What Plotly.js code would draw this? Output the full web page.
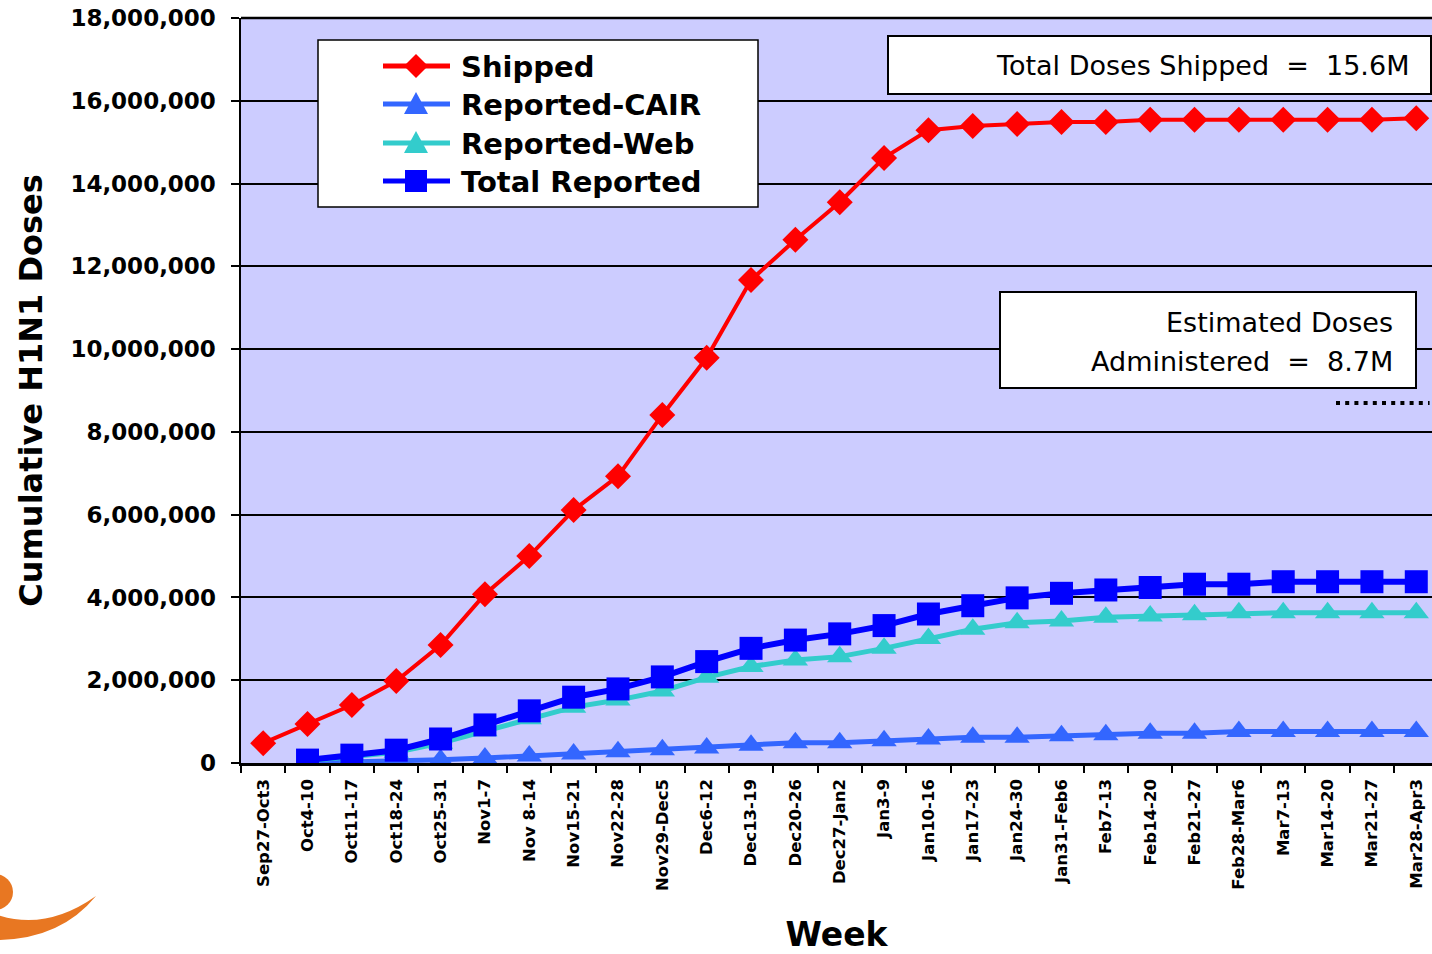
<!DOCTYPE html>
<html>
<head>
<meta charset="utf-8">
<script src="https://cdn.plot.ly/plotly-3.0.1.min.js"></script>
<style>
  html, body { margin: 0; padding: 0; background: #ffffff; }
  #chart { width: 1432px; height: 954px; }
</style>
</head>
<body>
<div id="chart"></div>
<script>
// ---------- data ----------
const weeks = [
  "Sep27-Oct3", "Oct4-10", "Oct11-17", "Oct18-24", "Oct25-31", "Nov1-7", "Nov 8-14",
  "Nov15-21", "Nov22-28", "Nov29-Dec5", "Dec6-12", "Dec13-19", "Dec20-26", "Dec27-Jan2",
  "Jan3-9", "Jan10-16", "Jan17-23", "Jan24-30", "Jan31-Feb6", "Feb7-13", "Feb14-20",
  "Feb21-27", "Feb28-Mar6", "Mar7-13", "Mar14-20", "Mar21-27", "Mar28-Apr3"
];

const shipped = [
  480000, 940000, 1400000, 1980000, 2850000, 4080000, 5000000,
  6110000, 6930000, 8410000, 9790000, 11670000, 12640000, 13550000,
  14620000, 15290000, 15390000, 15440000, 15490000, 15490000, 15540000,
  15540000, 15540000, 15540000, 15540000, 15540000, 15580000
];

const reportedCAIR = [
  null, 0, 20000, 50000, 80000, 120000, 170000,
  220000, 270000, 320000, 360000, 430000, 490000, 490000,
  540000, 580000, 620000, 620000, 660000, 680000, 720000,
  720000, 760000, 760000, 760000, 760000, 760000
];

const reportedWeb = [
  null, 50000, 150000, 260000, 480000, 780000, 1070000,
  1350000, 1520000, 1740000, 2070000, 2330000, 2490000, 2570000,
  2770000, 3010000, 3230000, 3390000, 3430000, 3520000, 3550000,
  3580000, 3630000, 3630000, 3630000, 3630000, 3630000
];

const totalReported = [
  null, 70000, 190000, 310000, 580000, 920000, 1260000,
  1590000, 1790000, 2080000, 2450000, 2770000, 2970000, 3120000,
  3320000, 3600000, 3800000, 3990000, 4100000, 4180000, 4240000,
  4320000, 4320000, 4380000, 4380000, 4380000, 4380000
];

const seriesNames = ["Shipped", "Reported-CAIR", "Reported-Web", "Total Reported"];
const seriesColors = ["#FF0000", "#3366FF", "#33CCCC", "#0000FF"];
const totalShippedLabel = "15.6M";
const estimatedAdministered = 8700000;
const estimatedAdministeredLabel = "8.7M";
const yTickValues = [0, 2000000, 4000000, 6000000, 8000000, 10000000, 12000000, 14000000, 16000000, 18000000];

// ---------- layout helpers (pixel -> paper) ----------
const W = 1432, H = 954;
const M = { l: 241, r: 0, t: 18, b: 191 };
const PW = W - M.l - M.r, PH = H - M.t - M.b;
const px = x => (x - M.l) / PW;
const py = y => (H - M.b - y) / PH;

const FONT = "DejaVu Sans";

const traces = [
  {
    x: weeks, y: shipped, name: seriesNames[0], type: "scatter", mode: "lines+markers",
    line: { color: seriesColors[0], width: 4 },
    marker: { symbol: "diamond", size: 20, color: seriesColors[0] }
  },
  {
    x: weeks, y: reportedCAIR, name: seriesNames[1], type: "scatter", mode: "lines+markers",
    line: { color: seriesColors[1], width: 5 },
    marker: { symbol: "triangle-up", size: 22, color: seriesColors[1] }
  },
  {
    x: weeks, y: reportedWeb, name: seriesNames[2], type: "scatter", mode: "lines+markers",
    line: { color: seriesColors[2], width: 5 },
    marker: { symbol: "triangle-up", size: 22, color: seriesColors[2] }
  },
  {
    x: weeks, y: totalReported, name: seriesNames[3], type: "scatter", mode: "lines+markers",
    line: { color: seriesColors[3], width: 6 },
    marker: { symbol: "square", size: 23, color: seriesColors[3] }
  }
];

const catW = 44.35;
const xMax = -0.5 + PW / catW;

function pathFromPixels(cmds) {
  return cmds.map(c => {
    if (c.length === 1) return c[0];
    const pts = [];
    for (let i = 1; i < c.length; i += 2) pts.push(px(c[i]).toFixed(5) + "," + py(c[i + 1]).toFixed(5));
    return c[0] + " " + pts.join(" ");
  }).join(" ");
}

// partial logo swoosh
const swoosh = pathFromPixels([
  ["M", -5, 914], ["Q", 45, 932, 96, 896], ["Q", 60, 940, -5, 940], ["Z"]
]);

// ---------- custom legend (box, line samples, symbols, labels) ----------
const legBox = { x0: 318, x1: 758, y0: 40, y1: 207 };
const legRows = [66, 104, 143, 181];
const legLine = { x0: 383, x1: 450, cx: 416 };
const legText = 459;
const legendShapes = [
  { type: "rect", xref: "paper", yref: "paper",
    x0: px(legBox.x0), x1: px(legBox.x1), y0: py(legBox.y1), y1: py(legBox.y0),
    fillcolor: "#ffffff", line: { color: "#000000", width: 1.5 } }
];
const legendAnn = [];
function symbolPath(kind, cx, cy) {
  if (kind === "diamond") {
    const r = 12;
    return pathFromPixels([["M", cx, cy - r], ["L", cx + r, cy], ["L", cx, cy + r], ["L", cx - r, cy], ["Z"]]);
  }
  if (kind === "triangle") {
    return pathFromPixels([["M", cx, cy - 12], ["L", cx + 12, cy + 10], ["L", cx - 12, cy + 10], ["Z"]]);
  }
  const h = 11;
  return pathFromPixels([["M", cx - h, cy - h], ["L", cx + h, cy - h], ["L", cx + h, cy + h], ["L", cx - h, cy + h], ["Z"]]);
}
const legSymbols = ["diamond", "triangle", "triangle", "square"];
seriesNames.forEach((name, i) => {
  const cy = legRows[i];
  legendShapes.push({ type: "line", xref: "paper", yref: "paper",
    x0: px(legLine.x0), x1: px(legLine.x1), y0: py(cy), y1: py(cy),
    line: { color: seriesColors[i], width: 5 } });
  legendShapes.push({ type: "path", xref: "paper", yref: "paper",
    path: symbolPath(legSymbols[i], legLine.cx, cy),
    fillcolor: seriesColors[i], line: { width: 0 } });
  legendAnn.push({ xref: "paper", yref: "paper", x: px(legText), y: py(cy + 1),
    xanchor: "left", yanchor: "middle", showarrow: false, text: name,
    font: { family: FONT, size: 29, weight: "bold", color: "#000000" } });
});

const layout = {
  width: W, height: H,
  margin: M,
  paper_bgcolor: "#ffffff",
  plot_bgcolor: "#CCCCFF",
  font: { family: FONT, color: "#000000" },
  showlegend: false,
  xaxis: {
    type: "category",
    range: [-0.5, xMax],
    tickson: "boundaries",
    ticks: "outside", ticklen: 7, tickwidth: 2, tickcolor: "#000000",
    showline: true, linecolor: "#000000", linewidth: 2.5,
    showgrid: false, zeroline: false,
    tickangle: -90,
    ticklabelstandoff: 7,
    tickfont: { family: FONT, size: 16.5, weight: "bold", color: "#000000" },
    title: { text: "Week", font: { family: FONT, size: 33, weight: "bold", color: "#000000" }, standoff: 40 },
    automargin: false,
    fixedrange: true
  },
  yaxis: {
    range: [0, 18000000],
    tickvals: yTickValues,
    tickformat: ",d",
    ticks: "outside", ticklen: 8, tickwidth: 2, tickcolor: "#000000",
    showline: true, linecolor: "#000000", linewidth: 2.5,
    showgrid: true, gridcolor: "#000000", gridwidth: 2,
    zeroline: false,
    tickfont: { family: FONT, size: 23, weight: "bold", color: "#000000" },
    ticklabelstandoff: 10,
    title: { text: "Cumulative H1N1 Doses", font: { family: FONT, size: 32, weight: "bold", color: "#000000" }, standoff: 18 },
    automargin: false,
    fixedrange: true
  },
  shapes: [
    { type: "line", xref: "paper", yref: "paper", x0: 0, x1: 1, y0: 1, y1: 1,
      line: { color: "#000000", width: 2.5 }, layer: "above" },
    { type: "line", xref: "x", yref: "y", x0: 24.19, x1: 26.3,
      y0: estimatedAdministered, y1: estimatedAdministered,
      line: { color: "#000000", width: 4, dash: "4px,5.2px" } },
    { type: "rect", xref: "paper", yref: "paper", x0: px(888), x1: px(1431), y0: py(94), y1: py(36),
      fillcolor: "#ffffff", line: { color: "#000000", width: 2 } },
    { type: "rect", xref: "paper", yref: "paper", x0: px(1000), x1: px(1416), y0: py(388), y1: py(292),
      fillcolor: "#ffffff", line: { color: "#000000", width: 2 } },
    { type: "circle", xref: "paper", yref: "paper", x0: px(-24), x1: px(13), y0: py(910), y1: py(874),
      fillcolor: "#E87722", line: { width: 0 } },
    { type: "path", xref: "paper", yref: "paper", path: swoosh,
      fillcolor: "#E87722", line: { width: 0 } }
  ].concat(legendShapes),
  annotations: [
    { xref: "paper", yref: "paper", x: px(1411), y: py(66), xanchor: "right", yanchor: "middle",
      text: "Total Doses Shipped&nbsp; =&nbsp; " + totalShippedLabel, showarrow: false,
      font: { family: FONT, size: 27, color: "#000000" } },
    { xref: "paper", yref: "paper", x: px(1395), y: py(322), xanchor: "right", yanchor: "middle",
      text: "Estimated Doses", showarrow: false,
      font: { family: FONT, size: 27, color: "#000000" } },
    { xref: "paper", yref: "paper", x: px(1395), y: py(361), xanchor: "right", yanchor: "middle",
      text: "Administered&nbsp; =&nbsp; " + estimatedAdministeredLabel, showarrow: false,
      font: { family: FONT, size: 27, color: "#000000" } }
  ].concat(legendAnn)
};

Plotly.newPlot("chart", traces, layout, { displayModeBar: false, staticPlot: true });
</script>
</body>
</html>
